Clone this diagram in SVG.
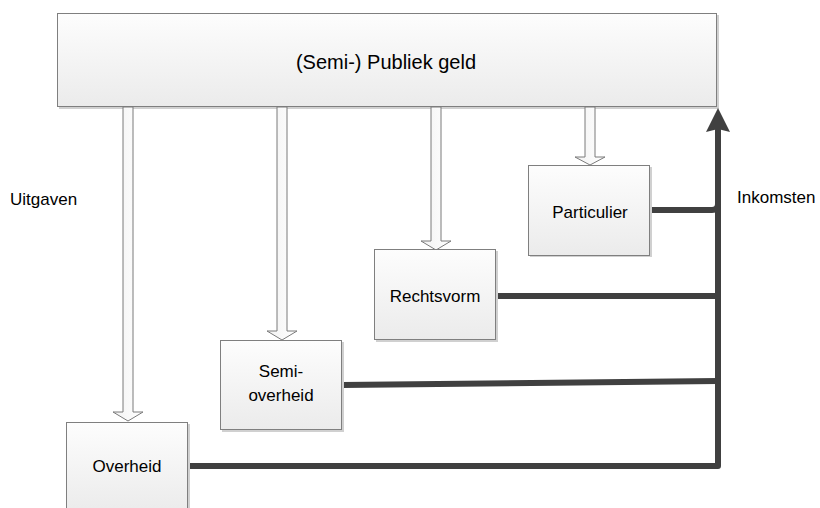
<svg xmlns="http://www.w3.org/2000/svg" width="820" height="508" viewBox="0 0 820 508">
<defs>
<linearGradient id="boxg" x1="0" y1="0" x2="0" y2="1">
<stop offset="0" stop-color="#fdfdfd"/>
<stop offset="1" stop-color="#ebebeb"/>
</linearGradient>
<linearGradient id="arrg" x1="0" y1="0" x2="1" y2="0">
<stop offset="0" stop-color="#f2f2f2"/>
<stop offset="1" stop-color="#ffffff"/>
</linearGradient>
<marker id="ah" markerWidth="24" markerHeight="24" viewBox="0 0 24 24" refX="2" refY="12" orient="auto" markerUnits="userSpaceOnUse">
<path d="M24,12 L0,0 L3,12 L0,24 Z" fill="#404040"/>
</marker>
</defs>
<style>
.box{fill:url(#boxg);stroke:#7f7f7f;stroke-width:1}
.shadow{fill:#d0d0d0}
.hol{fill:url(#arrg);stroke:#7a7a7a;stroke-width:1}
.t{font-family:"Liberation Sans",Arial,sans-serif;font-size:17px;fill:#000;text-anchor:middle}
.lbl{font-family:"Liberation Sans",Arial,sans-serif;font-size:17px;fill:#000}
.flow{fill:none;stroke:#404040;stroke-width:6;stroke-linecap:round;stroke-linejoin:round}
</style>
<rect width="820" height="508" fill="#ffffff"/>

<g id="publiek">
<rect class="shadow" x="59" y="15" width="660" height="94"/>
<rect class="box" x="57.5" y="13.5" width="659" height="93"/>
<text class="t" x="386" y="69" style="font-size:20px">(Semi-) Publiek geld</text>
</g>

<g id="connectors">
<polygon class="hol" points="123,107 133,107 133,412 143,412 128,421 113,412 123,412"/>
<polygon class="hol" points="277,107 287,107 287,331 297,331 282,340 267,331 277,331"/>
<polygon class="hol" points="431,107 441,107 441,241 451,241 436,250 421,241 431,241"/>
<polygon class="hol" points="585,107 595,107 595,157 605,157 590,165 575,157 585,157"/>
<path class="flow" d="M188,466 L718,466 L718,130" marker-end="url(#ah)"/>
<path class="flow" d="M342,385 L718,381"/>
<path class="flow" d="M496,296 L718,296"/>
<path class="flow" d="M650,210 L712,210 Q718,210 718,204"/>
</g>

<g id="overheid">
<rect class="shadow" x="68" y="424" width="122" height="90"/>
<rect class="box" x="66.5" y="422.5" width="121" height="90"/>
<text class="t" x="127" y="472">Overheid</text>
</g>

<g id="semi-overheid">
<rect class="shadow" x="222" y="342" width="122" height="90"/>
<rect class="box" x="220.5" y="340.5" width="121" height="89"/>
<text class="t" x="281" y="377">Semi-</text>
<text class="t" x="281" y="401">overheid</text>
</g>

<g id="rechtsvorm">
<rect class="shadow" x="376" y="251" width="122" height="91"/>
<rect class="box" x="374.5" y="249.5" width="121" height="90"/>
<text class="t" x="435" y="302">Rechtsvorm</text>
</g>

<g id="particulier">
<rect class="shadow" x="530" y="167" width="122" height="90"/>
<rect class="box" x="528.5" y="165.5" width="121" height="90"/>
<text class="t" x="590" y="218">Particulier</text>
</g>

<g id="labels">
<text class="lbl" x="10" y="205">Uitgaven</text>
<text class="lbl" x="737" y="203">Inkomsten</text>
</g>
</svg>
